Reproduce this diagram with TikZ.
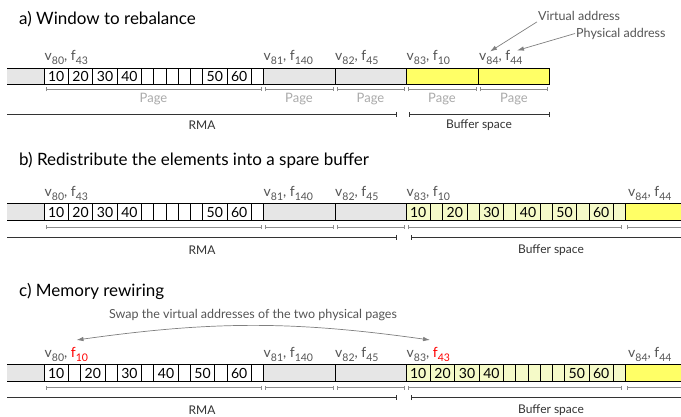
\documentclass[tikz,border=0pt]{standalone}
\usepackage{fontspec}
\setmainfont{Lato}
\usetikzlibrary{arrows.meta}

\definecolor{rmagray}{HTML}{E6E6E6}
\definecolor{bufyellow}{HTML}{FFFF66}
\definecolor{cellyellow}{HTML}{F5FAC8}
\definecolor{labelgray}{HTML}{555555}
\definecolor{pagegray}{HTML}{AAAAAA}
\definecolor{bracketgray}{HTML}{8C8C8C}
\definecolor{darkline}{HTML}{333333}
\definecolor{swapred}{HTML}{FF0000}

% subscript used in the address labels
\newcommand\sub[1]{\raisebox{-0.28em}{\fontsize{10.5}{11}\selectfont #1}}
% address label: v_{a}, f_{b}
\newcommand\addr[2]{v\sub{#1}, f\sub{#2}}
\newcommand\addrred[2]{v\sub{#1}, \textcolor{swapred}{f\sub{#2}}}

\tikzset{
  x=1pt, y=-1pt,
  title/.style={anchor=base west, inner sep=0pt, font=\fontsize{17}{19}\selectfont},
  addrlabel/.style={anchor=base west, inner sep=0pt, text=labelgray, font=\fontsize{14}{16}\selectfont},
  celltext/.style={inner sep=0pt, font=\fontsize{14}{16}\selectfont},
  pagetext/.style={inner sep=0pt, text=pagegray, font=\fontsize{13}{15}\selectfont},
  regiontext/.style={inner sep=0pt, text=darkline, font=\fontsize{12}{14}\selectfont},
  annot/.style={inner sep=1pt, text=labelgray, font=\fontsize{12.5}{14}\selectfont},
  pagebox/.style={draw=black, line width=0.8pt},
  cellbox/.style={draw=black, line width=0.7pt},
  pagebr/.style={draw=bracketgray, line width=0.6pt, {Bar[width=4pt]}-{Bar[width=4pt]}},
  regionbr/.style={draw=darkline, line width=0.9pt},
  annarrow/.style={draw=gray, line width=0.7pt, -{Latex[length=7pt,width=4.5pt]}},
}

% cells of one page: #1 name prefix, #2 top, #3 bottom, #4 left x, #5 fill, #6 width/text list
\newcommand\cellrun[6]{%
  \foreach \w/\t [count=\i, evaluate=\w as \xe using \xs+\w*12.2,
                  remember=\xe as \xs (initially #4)] in {#6}{%
    \draw[cellbox, fill=#5] (\xs,#2) rectangle (\xe,#3);
    \node[celltext] (#1\i) at ({(\xs+\xe)/2},{(#2+#3)/2+0.5}) {\t};
  }%
}

\begin{document}
\begin{tikzpicture}
\clip (0,0) rectangle (681,417);
\fill[white] (0,0) rectangle (681,417);

%% ---------------- a) Window to rebalance ----------------
\node[title] (ta) at (19,25) {a) Window to rebalance};
\def\T{68}\def\B{84.3}
\fill[rmagray] (7,\T) rectangle (44,\B);
\draw[pagebox] (7,\T) -- (44,\T) (7,\B) -- (44,\B);
\cellrun{a}{\T}{\B}{44}{white}{2/10,2/20,2/30,2/40,1/{},1/{},1/{},1/{},1/{},2/50,2/60,1/{}}
\draw[pagebox, fill=rmagray] (263.6,\T) rectangle (335,\B);
\draw[pagebox, fill=rmagray] (335,\T) rectangle (406,\B);
\draw[pagebox, fill=bufyellow] (406,\T) rectangle (478,\B);
\draw[pagebox, fill=bufyellow] (478,\T) rectangle (549.5,\B);

\node[addrlabel] (la80) at (44.5,61) {\addr{80}{43}};
\node[addrlabel] (la81) at (263.5,61) {\addr{81}{140}};
\node[addrlabel] (la82) at (335,61) {\addr{82}{45}};
\node[addrlabel] (la83) at (406.5,61) {\addr{83}{10}};
\node[addrlabel] (la84) at (479,61) {\addr{84}{44}};

\def\Y{89.5}
\draw[pagebr] (45.5,\Y) -- (262,\Y);
\draw[pagebr] (265,\Y) -- (333.5,\Y);
\draw[pagebr] (336.5,\Y) -- (404.5,\Y);
\draw[pagebr] (408,\Y) -- (476.5,\Y);
\draw[pagebr] (480,\Y) -- (548,\Y);
\node[pagetext] (pa1) at (153.5,99.5) {Page};
\node[pagetext] (pa2) at (299,99.5) {Page};
\node[pagetext] (pa3) at (370.5,99.5) {Page};
\node[pagetext] (pa4) at (442,99.5) {Page};
\node[pagetext] (pa5) at (514,99.5) {Page};

\draw[regionbr, -{Bar[width=5pt]}] (7,114.5) -- (397,114.5);
\draw[regionbr, {Bar[width=5pt]}-{Bar[width=5pt]}] (409,114.5) -- (549.5,114.5);
\node[regiontext] (rma-a) at (202,125) {RMA};
\node[regiontext] (buf-a) at (479,125) {Buffer space};

\node[annot, anchor=west] (virt) at (537,16) {Virtual address};
\node[annot, anchor=west] (phys) at (575,33.5) {Physical address};
\coordinate (vtip) at (490,51.5);
\coordinate (ftip) at (517,50.5);
\draw[annarrow] (virt.south west) -- (vtip);
\draw[annarrow] (phys.west) -- (ftip);

%% ---------------- b) Redistribute ----------------
\node[title] (tb) at (19,166) {b) Redistribute the elements into a spare buffer};
\def\T{203.5}\def\B{220}
\fill[rmagray] (7,\T) rectangle (44,\B);
\draw[pagebox] (7,\T) -- (44,\T) (7,\B) -- (44,\B);
\cellrun{b}{\T}{\B}{44}{white}{2/10,2/20,2/30,2/40,1/{},1/{},1/{},1/{},1/{},2/50,2/60,1/{}}
\draw[pagebox, fill=rmagray] (263.6,\T) rectangle (335,\B);
\draw[pagebox, fill=rmagray] (335,\T) rectangle (406,\B);
\cellrun{bb}{\T}{\B}{406}{cellyellow}{2/10,1/{},2/20,1/{},2/30,1/{},2/40,1/{},2/50,1/{},2/60,1/{}}
\draw[pagebox, fill=bufyellow] (625.6,\T) rectangle (700,\B);

\node[addrlabel] (lb80) at (44.5,197) {\addr{80}{43}};
\node[addrlabel] (lb81) at (263.5,197) {\addr{81}{140}};
\node[addrlabel] (lb82) at (335,197) {\addr{82}{45}};
\node[addrlabel] (lb83) at (406.5,197) {\addr{83}{10}};
\node[addrlabel] (lb84) at (628,197) {\addr{84}{44}};

\def\Y{227.5}
\draw[pagebr] (45.5,\Y) -- (262,\Y);
\draw[pagebr] (265,\Y) -- (333.5,\Y);
\draw[pagebr] (336.5,\Y) -- (404.5,\Y);
\draw[pagebr] (408,\Y) -- (622,\Y);
\draw[pagebr] (627,\Y) -- (700,\Y);

\draw[regionbr, -{Bar[width=5pt]}] (7,237.5) -- (397,237.5);
\draw[regionbr, {Bar[width=5pt]}-] (411,237.5) -- (700,237.5);
\node[regiontext] (rma-b) at (202,250) {RMA};
\node[regiontext] (buf-b) at (551,250) {Buffer space};

%% ---------------- c) Memory rewiring ----------------
\node[title] (tc) at (19,296.5) {c) Memory rewiring};
\def\T{364}\def\B{381.5}
\fill[rmagray] (7,\T) rectangle (44,\B);
\draw[pagebox] (7,\T) -- (44,\T) (7,\B) -- (44,\B);
\cellrun{c}{\T}{\B}{44}{white}{2/10,1/{},2/20,1/{},2/30,1/{},2/40,1/{},2/50,1/{},2/60,1/{}}
\draw[pagebox, fill=rmagray] (263.6,\T) rectangle (335,\B);
\draw[pagebox, fill=rmagray] (335,\T) rectangle (406,\B);
\cellrun{cc}{\T}{\B}{406}{cellyellow}{2/10,2/20,2/30,2/40,1/{},1/{},1/{},1/{},1/{},2/50,2/60,1/{}}
\draw[pagebox, fill=bufyellow] (625.6,\T) rectangle (700,\B);

\node[addrlabel] (lc80) at (44.5,357.5) {\addrred{80}{10}};
\node[addrlabel] (lc81) at (263.5,357.5) {\addr{81}{140}};
\node[addrlabel] (lc82) at (335,357.5) {\addr{82}{45}};
\node[addrlabel] (lc83) at (406.5,357.5) {\addrred{83}{43}};
\node[addrlabel] (lc84) at (628,357.5) {\addr{84}{44}};

\def\Y{387.5}
\draw[pagebr] (45.5,\Y) -- (262,\Y);
\draw[pagebr] (265,\Y) -- (333.5,\Y);
\draw[pagebr] (336.5,\Y) -- (404.5,\Y);
\draw[pagebr] (408,\Y) -- (622,\Y);
\draw[pagebr] (627,\Y) -- (700,\Y);

\draw[regionbr, -{Bar[width=5pt]}] (7,397.5) -- (397,397.5);
\draw[regionbr, {Bar[width=5pt]}-] (411,397.5) -- (700,397.5);
\node[regiontext] (rma-c) at (202,410) {RMA};
\node[regiontext] (buf-c) at (551,410) {Buffer space};

\node[annot] (swap) at (253,315) {Swap the virtual addresses of the two physical pages};
\coordinate (swapl) at (76.5,340);
\coordinate (swapr) at (430,340);
\draw[annarrow, {Latex[length=7pt,width=4.5pt]}-{Latex[length=7pt,width=4.5pt]}] (swapl) to[bend left=8] (swapr);
\end{tikzpicture}
\end{document}
